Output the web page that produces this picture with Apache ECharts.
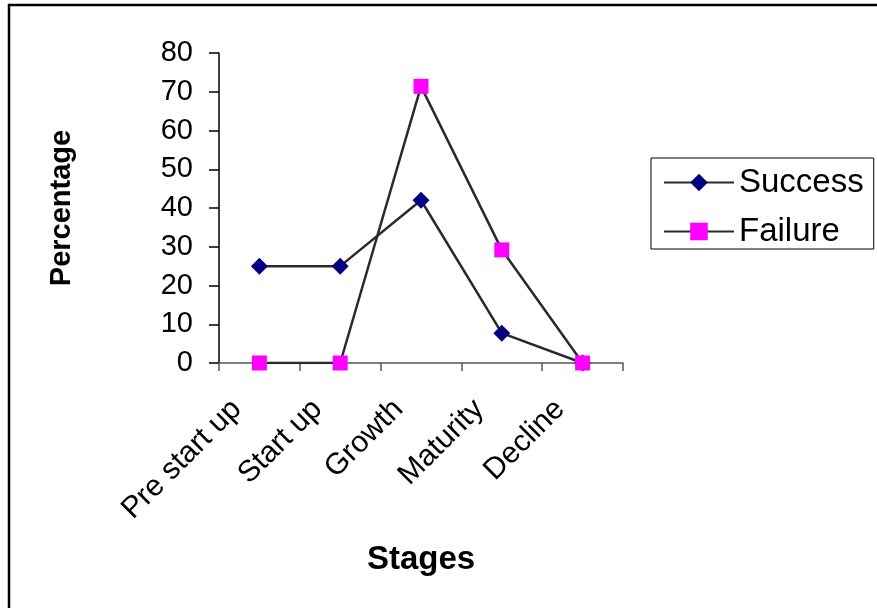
<!DOCTYPE html>
<html>
<head>
<meta charset="utf-8">
<script src="https://cdn.jsdelivr.net/npm/echarts@6/dist/echarts.min.js"></script>
<style>
html,body{margin:0;padding:0;background:#fff;}
#chart{width:877px;height:608px;}
</style>
</head>
<body>
<div id="chart"></div>
<script>
const categories = ['Pre start up', 'Start up', 'Growth', 'Maturity', 'Decline'];
const successValues = [25, 25, 42, 7.7, 0];
const failureValues = [0, 0, 71.4, 29.2, 0];
const yTicks = [0, 10, 20, 30, 40, 50, 60, 70, 80];

const FONT = '"Liberation Sans", Arial, sans-serif';
const chart = echarts.init(document.getElementById('chart'), null, {renderer: 'canvas'});
chart.setOption({
  backgroundColor: '#fff',
  animation: false,
  graphic: [{
    type: 'rect', z: 100, silent: true,
    shape: {x: 9, y: 5, width: 1000, height: 800},
    style: {fill: 'none', stroke: '#000', lineWidth: 2.5}
  }],
  grid: {left: 219, top: 53, right: 254, bottom: 245, containLabel: false},
  legend: {
    orient: 'vertical',
    left: 651, top: 158,
    padding: [8, 10, 1, 12],
    itemGap: 16,
    itemWidth: 70,
    itemHeight: 22,
    borderColor: '#000', borderWidth: 1,
    textStyle: {fontFamily: FONT, fontSize: 33, color: '#000', lineHeight: 30},
    data: ['Success', 'Failure']
  },
  xAxis: {
    type: 'category',
    data: categories,
    boundaryGap: true,
    name: 'Stages',
    nameLocation: 'middle',
    nameGap: 180,
    nameTextStyle: {fontFamily: FONT, fontSize: 33, fontWeight: 'bold', color: '#000'},
    axisLine: {lineStyle: {color: '#555', width: 1.5}},
    axisTick: {show: true, length: 8, alignWithLabel: false, lineStyle: {color: '#555', width: 1.5}},
    axisLabel: {
      rotate: 45, margin: 19, fontFamily: FONT, fontSize: 30, color: '#000',
      padding: [0, 32, 0, 0]
    },
    splitLine: {show: false}
  },
  yAxis: {
    type: 'value',
    min: 0, max: 80, interval: 10,
    name: 'Percentage',
    nameLocation: 'middle',
    nameRotate: 90,
    nameGap: 143,
    nameTextStyle: {fontFamily: FONT, fontSize: 29, fontWeight: 'bold', color: '#000'},
    axisLine: {show: true, lineStyle: {color: '#000', width: 1.5}},
    axisTick: {show: true, length: 10, lineStyle: {color: '#000', width: 1.5}},
    axisLabel: {
      margin: 26, fontFamily: FONT, fontSize: 29, color: '#000',
      formatter: function (v) { return yTicks.indexOf(v) >= 0 ? String(v) : ''; }
    },
    splitLine: {show: false}
  },
  series: [
    {
      name: 'Success', type: 'line', data: successValues,
      symbol: 'diamond', symbolSize: 17,
      lineStyle: {color: '#2a2a2a', width: 2.5},
      itemStyle: {color: '#000080'}
    },
    {
      name: 'Failure', type: 'line', data: failureValues,
      symbol: 'rect', symbolSize: 15,
      lineStyle: {color: '#2a2a2a', width: 2.5},
      itemStyle: {color: '#FF00FF'}
    }
  ]
});
</script>
</body>
</html>
